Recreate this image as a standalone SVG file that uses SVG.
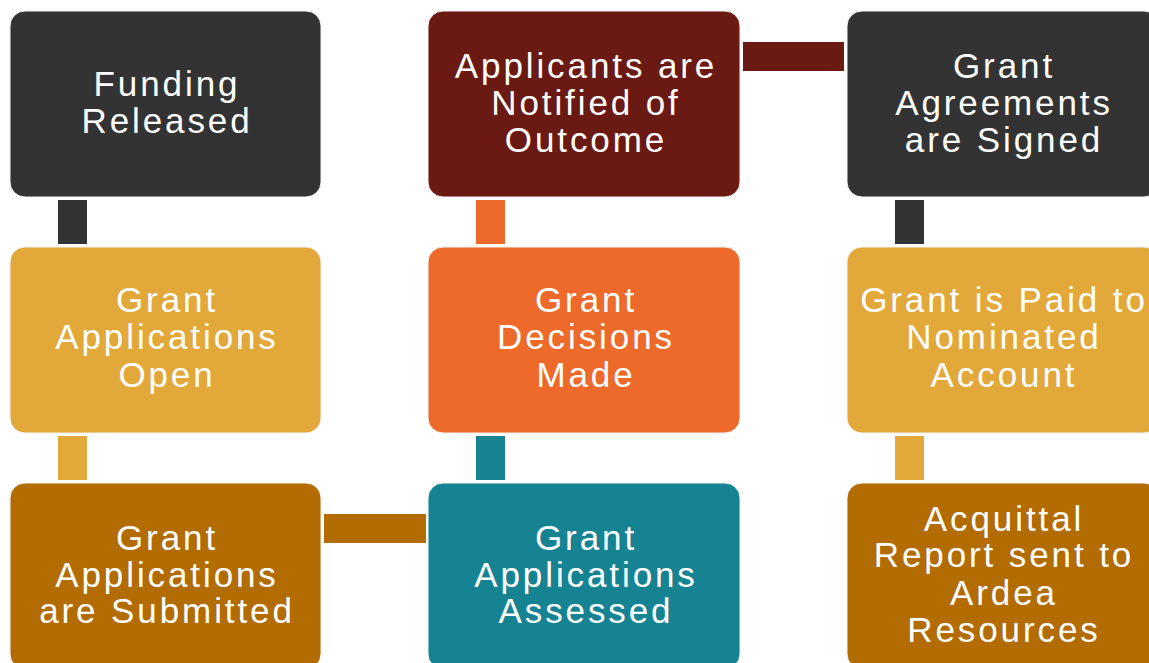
<svg xmlns="http://www.w3.org/2000/svg" width="1149" height="663" viewBox="0 0 1149 663">
<style>
.box{stroke:#f2f2f2;stroke-width:1}
.t{font-family:"Liberation Sans",Arial,sans-serif;font-size:35px;letter-spacing:2.9px;fill:#ffffff;text-anchor:middle}
.dark{fill:#333333}
.maroon{fill:#6A1A12}
.gold{fill:#E3A83A}
.orange{fill:#EE6A2A}
.teal{fill:#168393}
.brown{fill:#B26C02}
</style>
<rect width="1149" height="663" fill="#ffffff"/>
<g id="connectors">
<rect class="dark" x="58" y="200" width="29" height="44"/>
<rect class="gold" x="58" y="436" width="29" height="44"/>
<rect class="brown" x="324" y="514" width="102" height="29"/>
<rect class="teal" x="476" y="436" width="29" height="44"/>
<rect class="orange" x="476" y="200" width="29" height="44"/>
<rect class="maroon" x="743" y="42" width="101" height="29"/>
<rect class="dark" x="895" y="200" width="29" height="44"/>
<rect class="gold" x="895" y="436" width="29" height="44"/>
</g>
<g id="funding-released">
<rect class="box dark" x="10" y="11" width="311" height="186" rx="15"/>
<text class="t" x="167" y="96">Funding</text>
<text class="t" x="167" y="133">Released</text>
</g>
<g id="applications-open">
<rect class="box gold" x="10" y="247" width="311" height="186" rx="15"/>
<text class="t" x="167" y="312">Grant</text>
<text class="t" x="167" y="349">Applications</text>
<text class="t" x="167" y="387">Open</text>
</g>
<g id="applications-submitted">
<rect class="box brown" x="10" y="483" width="311" height="186" rx="15"/>
<text class="t" x="167" y="550">Grant</text>
<text class="t" x="167" y="587">Applications</text>
<text class="t" x="167" y="623">are Submitted</text>
</g>
<g id="applicants-notified">
<rect class="box maroon" x="428" y="11" width="312" height="186" rx="15"/>
<text class="t" x="586" y="78">Applicants are</text>
<text class="t" x="586" y="115">Notified of</text>
<text class="t" x="586" y="152">Outcome</text>
</g>
<g id="decisions-made">
<rect class="box orange" x="428" y="247" width="312" height="186" rx="15"/>
<text class="t" x="586" y="312">Grant</text>
<text class="t" x="586" y="349">Decisions</text>
<text class="t" x="586" y="387">Made</text>
</g>
<g id="applications-assessed">
<rect class="box teal" x="428" y="483" width="312" height="186" rx="15"/>
<text class="t" x="586" y="550">Grant</text>
<text class="t" x="586" y="587">Applications</text>
<text class="t" x="586" y="623">Assessed</text>
</g>
<g id="agreements-signed">
<rect class="box dark" x="847" y="11" width="312" height="186" rx="15"/>
<text class="t" x="1004" y="78">Grant</text>
<text class="t" x="1004" y="115">Agreements</text>
<text class="t" x="1004" y="152">are Signed</text>
</g>
<g id="grant-paid">
<rect class="box gold" x="847" y="247" width="312" height="186" rx="15"/>
<text class="t" x="1004" y="312">Grant is Paid to</text>
<text class="t" x="1004" y="349">Nominated</text>
<text class="t" x="1004" y="387">Account</text>
</g>
<g id="acquittal-report">
<rect class="box brown" x="847" y="483" width="312" height="186" rx="15"/>
<text class="t" x="1004" y="531">Acquittal</text>
<text class="t" x="1004" y="567">Report sent to</text>
<text class="t" x="1004" y="605">Ardea</text>
<text class="t" x="1004" y="642">Resources</text>
</g>
</svg>
